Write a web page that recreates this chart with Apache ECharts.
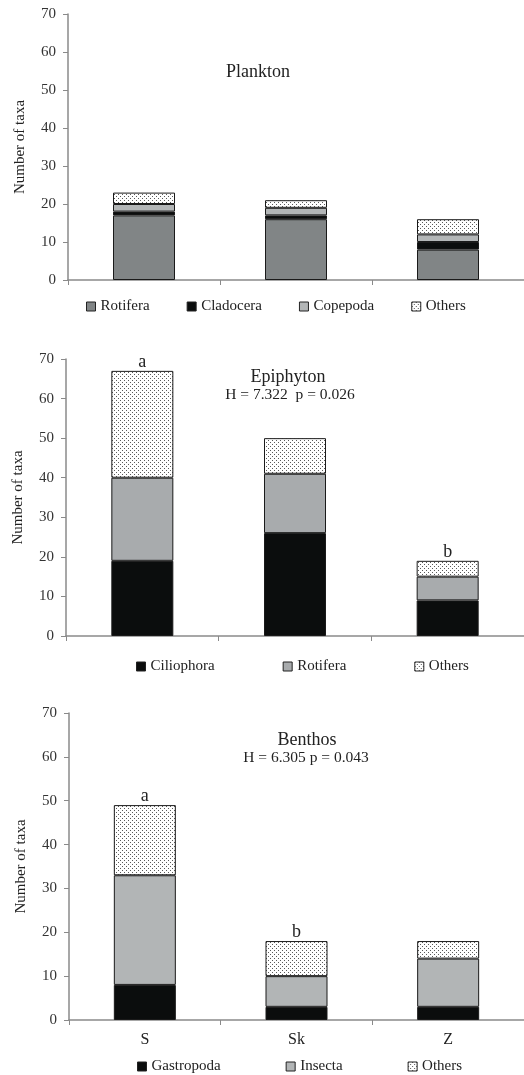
<!DOCTYPE html>
<html>
<head>
<meta charset="utf-8">
<script src="https://cdn.jsdelivr.net/npm/echarts@6/dist/echarts.min.js"></script>
<style>
html,body{margin:0;padding:0;background:#fff;}
#c{width:524px;height:1075px;}
</style>
</head>
<body>
<div id="c"></div>
<script>
const sites = ['S', 'Sk', 'Z'];
const planktonRotifera = [17, 16, 8];
const planktonCladocera = [1, 1, 2];
const planktonCopepoda = [2, 2, 2];
const planktonOthers = [3, 2, 4];
const epiCiliophora = [19, 26, 9];
const epiRotifera = [21, 15, 6];
const epiOthers = [27, 9, 4];
const epiLetters = ['a', '', 'b'];
const benGastropoda = [8, 3, 3];
const benInsecta = [25, 7, 11];
const benOthers = [16, 8, 4];
const benLetters = ['a', 'b', ''];
const yMin = 0, yMax = 70, yStep = 10;

const FONT = 'Liberation Serif';
const pc = document.createElement('canvas');
pc.width = 4; pc.height = 4;
const pctx = pc.getContext('2d');
pctx.fillStyle = '#ffffff'; pctx.fillRect(0, 0, 4, 4);
pctx.fillStyle = '#5a5a5a';
pctx.fillRect(0, 0, 1, 1); pctx.fillRect(2, 2, 1, 1);
const dots = { image: pc, repeat: 'repeat' };

const grids = [
  { left: 68, top: 14, width: 459, height: 266 },
  { left: 66, top: 359, width: 465, height: 277 },
  { left: 69, top: 713, width: 463, height: 307 }
];
const axisColor = '#8a8a8a';
function xAxis(i, showLabels) {
  return {
    type: 'category', gridIndex: i, data: sites,
    axisLine: { lineStyle: { color: axisColor, width: 1.5 } },
    axisTick: { show: true, length: 5, lineStyle: { color: axisColor } },
    axisLabel: { show: showLabels, color: '#222', fontFamily: FONT, fontSize: 16, margin: 12 }
  };
}
function yAxis(i) {
  return {
    type: 'value', gridIndex: i, min: yMin, max: yMax, interval: yStep,
    name: 'Number of taxa', nameLocation: 'middle', nameGap: 40,
    nameTextStyle: { color: '#222', fontFamily: FONT, fontSize: 15 },
    axisLine: { show: true, lineStyle: { color: axisColor, width: 1.5 } },
    axisTick: { show: true, length: 5, lineStyle: { color: axisColor } },
    axisLabel: { color: '#333', fontFamily: FONT, fontSize: 15, margin: 12 },
    splitLine: { show: false }
  };
}
const border = { borderColor: '#1a1a1a', borderWidth: 1 };
function bar(name, gi, stack, values, color, letters) {
  const s = {
    name: name, type: 'bar', stack: stack, xAxisIndex: gi, yAxisIndex: gi,
    barWidth: 62, itemStyle: Object.assign({ color: color }, border),
    data: values.slice()
  };
  if (letters) {
    s.data = values.map(function (v, k) {
      return letters[k] ? { value: v, label: { show: true, formatter: letters[k] } } : v;
    });
    s.label = { show: false, position: 'top', distance: 0, color: '#222', fontFamily: FONT, fontSize: 18 };
  }
  return s;
}
function legend(names, left, top, gap) {
  return {
    data: names, left: left, top: top, padding: 0, itemGap: gap,
    itemWidth: 9, itemHeight: 9, icon: 'rect', selectedMode: false,
    formatter: function (n) { return n.split(':')[1]; },
    itemStyle: { borderColor: '#222', borderWidth: 1 },
    textStyle: { color: '#222', fontFamily: FONT, fontSize: 15 }
  };
}
const series = [
  bar('p:Rotifera', 0, 'p', planktonRotifera, '#818586'),
  bar('p:Cladocera', 0, 'p', planktonCladocera, '#0b0d0d'),
  bar('p:Copepoda', 0, 'p', planktonCopepoda, '#b3b6b7'),
  bar('p:Others', 0, 'p', planktonOthers, dots),
  bar('e:Ciliophora', 1, 'e', epiCiliophora, '#0b0d0d'),
  bar('e:Rotifera', 1, 'e', epiRotifera, '#a8abad'),
  bar('e:Others', 1, 'e', epiOthers, dots, epiLetters),
  bar('b:Gastropoda', 2, 'b', benGastropoda, '#0b0d0d'),
  bar('b:Insecta', 2, 'b', benInsecta, '#b2b5b6'),
  bar('b:Others', 2, 'b', benOthers, dots, benLetters)
];
function txt(t, x, y, size) {
  return { type: 'text', x: x, y: y, style: { text: t, fill: '#222', font: size + 'px "' + FONT + '"', textAlign: 'center', textVerticalAlign: 'middle' } };
}
const option = {
  animation: false,
  backgroundColor: '#fff',
  grid: grids,
  xAxis: [xAxis(0, false), xAxis(1, false), xAxis(2, true)],
  yAxis: [yAxis(0), yAxis(1), yAxis(2)],
  legend: [
    legend(['p:Rotifera', 'p:Cladocera', 'p:Copepoda', 'p:Others'], 86, 299, 37),
    legend(['e:Ciliophora', 'e:Rotifera', 'e:Others'], 136, 659, 68),
    legend(['b:Gastropoda', 'b:Insecta', 'b:Others'], 137, 1059, 65)
  ],
  graphic: [
    txt('Plankton', 258, 72, 18),
    txt('Epiphyton', 288, 377, 18),
    txt('H = 7.322  p = 0.026', 290, 395, 15.5),
    txt('Benthos', 307, 740, 18),
    txt('H = 6.305 p = 0.043', 306, 758, 15.5)
  ],
  series: series
};
const chart = echarts.init(document.getElementById('c'), null, { renderer: 'canvas', width: 524, height: 1075 });
chart.setOption(option);
</script>
</body>
</html>
